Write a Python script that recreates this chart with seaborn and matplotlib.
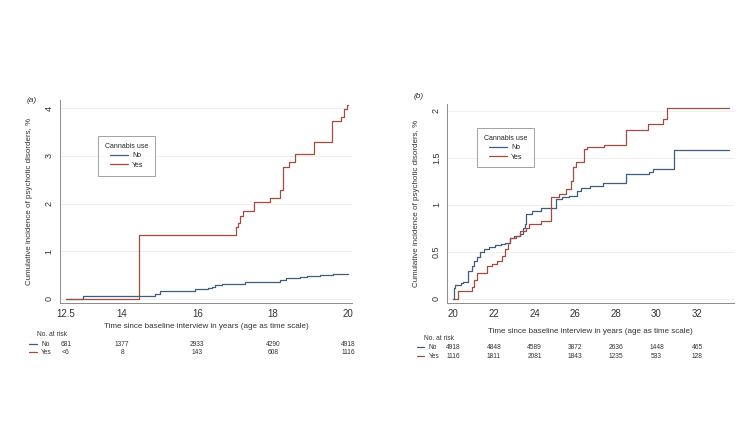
import matplotlib
matplotlib.use("Agg")
import matplotlib.pyplot as plt
import numpy as np
import pandas as pd
import seaborn as sns

# ==================== DATA ====================
# Panel (a): age 12.5-20
a_no_t = [12.5, 12.97, 14.48, 14.87, 15.01, 15.94, 16.27, 16.38, 16.47, 16.65, 17.27, 17.6,
          18.2, 18.36, 18.73, 18.9, 19.26, 19.6, 20.0]
a_no_v = [0.0, 0.057, 0.07, 0.11, 0.16, 0.2, 0.22, 0.24, 0.29, 0.32, 0.35, 0.36,
          0.39, 0.43, 0.45, 0.48, 0.5, 0.52, 0.52]
a_yes_t = [12.5, 14.45, 17.02, 17.07, 17.14, 17.2, 17.49, 17.93, 18.2, 18.27, 18.43, 18.6,
           19.09, 19.57, 19.8, 19.88, 19.96, 20.0]
a_yes_v = [0.0, 1.34, 1.51, 1.6, 1.74, 1.84, 2.04, 2.12, 2.28, 2.76, 2.88, 3.04,
           3.3, 3.73, 3.82, 3.98, 4.07, 4.07]

# Panel (b): age 20-33.5
b_no_t = [20.0, 20.03, 20.11, 20.36, 20.5, 20.72, 20.93, 21.02, 21.18, 21.34, 21.51, 21.75,
          22.07, 22.33, 22.56, 22.79, 22.98, 23.31, 23.44, 23.52, 23.59, 23.9, 24.3,
          25.07, 25.36, 25.69, 26.1, 26.31, 26.75, 27.38, 28.52, 29.62, 29.85, 30.87, 33.56]
b_no_v = [0.0, 0.12, 0.15, 0.17, 0.18, 0.3, 0.35, 0.4, 0.45, 0.5, 0.53, 0.55,
          0.57, 0.59, 0.6, 0.65, 0.67, 0.69, 0.75, 0.8, 0.9, 0.94, 0.97,
          1.06, 1.08, 1.1, 1.15, 1.18, 1.2, 1.23, 1.33, 1.35, 1.38, 1.58, 1.58]
b_yes_t = [20.0, 20.25, 20.93, 21.02, 21.15, 21.67, 21.92, 22.16, 22.38, 22.56, 22.69, 22.79,
           23.08, 23.31, 23.56, 23.72, 24.3, 24.79, 25.2, 25.54, 25.8, 25.9, 26.02,
           26.46, 26.56, 27.41, 28.52, 29.57, 30.31, 30.52, 33.56]
b_yes_v = [0.0, 0.09, 0.13, 0.2, 0.28, 0.35, 0.37, 0.4, 0.46, 0.53, 0.6, 0.65,
           0.67, 0.72, 0.76, 0.8, 0.83, 1.08, 1.12, 1.17, 1.25, 1.4, 1.46,
           1.6, 1.62, 1.64, 1.8, 1.86, 1.91, 2.03, 2.03]

# Numbers at risk
a_ticks = [12.5, 14, 16, 18, 20]
a_risk_no = ["681", "1377", "2933", "4290", "4918"]
a_risk_yes = ["<6", "8", "143", "608", "1116"]
b_ticks = [20, 22, 24, 26, 28, 30, 32]
b_risk_no = ["4918", "4848", "4589", "3872", "2636", "1448", "465"]
b_risk_yes = ["1116", "1811", "2081", "1843", "1235", "533", "128"]

a_yticks = [0, 1, 2, 3, 4]
a_ylabels = ["0", "1", "2", "3", "4"]
b_yticks = [0, 0.5, 1, 1.5, 2]
b_ylabels = ["0", "0.5", "1", "1.5", "2"]

GROUPS = ["No", "Yes"]
COLORS = {"No": "#3f5d7d", "Yes": "#a04c3e"}
AXCOL = "#8c8c8c"
TXT = "#333333"


def make_df(no_t, no_v, yes_t, yes_v):
    return pd.concat([
        pd.DataFrame({"time": no_t, "inc": no_v, "group": "No"}),
        pd.DataFrame({"time": yes_t, "inc": yes_v, "group": "Yes"}),
    ], ignore_index=True)


def draw_panel(ax, df, xlim, ylim, xticks, xticklabels, yticks, yticklabels,
               risk_no, risk_yes, tag, tag_pos, leg_anchor, table_y):
    sns.lineplot(data=df, x="time", y="inc", hue="group", hue_order=GROUPS,
                 palette=COLORS, drawstyle="steps-post", estimator=None,
                 linewidth=0.9, ax=ax)
    ax.set_xlim(*xlim)
    ax.set_ylim(*ylim)
    ax.set_xticks(xticks)
    ax.set_xticklabels(xticklabels, fontsize=7, color=TXT)
    ax.set_yticks(yticks)
    ax.set_yticklabels(yticklabels, fontsize=6.5, color=TXT, rotation=90, va="center")
    ax.tick_params(axis="both", length=2.5, width=0.6, color=AXCOL, pad=2)
    for s in ["top", "right"]:
        ax.spines[s].set_visible(False)
    for s in ["left", "bottom"]:
        ax.spines[s].set_color(AXCOL)
        ax.spines[s].set_linewidth(0.7)
    ax.grid(axis="y", color="#ececec", linewidth=0.6)
    ax.grid(axis="x", visible=False)
    ax.set_axisbelow(True)

    ax.set_xlabel("Time since baseline interview in years (age as time scale)",
                  fontsize=5.8, color=TXT)
    ax.xaxis.set_label_coords(0.5, table_y[0] + 0.055)
    ax.set_ylabel("Cumulative incidence of psychotic disorders, %", fontsize=5.8, color=TXT)
    ax.yaxis.set_label_coords(-0.094, 0.5)

    ax.text(tag_pos[0], tag_pos[1], tag, transform=ax.transAxes, fontsize=6,
            style="italic", color=TXT, ha="center", va="center")

    leg = ax.legend(title="Cannabis use", loc="upper left", bbox_to_anchor=leg_anchor,
                    borderaxespad=0, fontsize=5, title_fontsize=5, frameon=True,
                    fancybox=False, edgecolor="#777777", handlelength=2.6,
                    borderpad=1.0, labelspacing=0.35, handletextpad=0.6)
    leg.get_frame().set_linewidth(0.6)
    for line in leg.get_lines():
        line.set_linewidth(0.9)

    # number-at-risk table
    tr = ax.get_xaxis_transform()
    hdr_y, no_y, yes_y = table_y
    ax.text(-0.08, hdr_y, "No. at risk", transform=ax.transAxes, fontsize=4.8,
            color=TXT, ha="left", va="center")
    for lbl, yy in [("No", no_y), ("Yes", yes_y)]:
        ax.plot([-0.105, -0.08], [yy, yy], transform=ax.transAxes, color=COLORS[lbl],
                linewidth=0.9, clip_on=False)
        ax.text(-0.065, yy, lbl, transform=ax.transAxes, fontsize=4.8, color=TXT,
                ha="left", va="center")
    for x, n_no, n_yes in zip(xticks, risk_no, risk_yes):
        ax.text(x, no_y, n_no, transform=tr, fontsize=4.8, color=TXT, ha="center", va="center")
        ax.text(x, yes_y, n_yes, transform=tr, fontsize=4.8, color=TXT, ha="center", va="center")


def main():
    sns.set_style("white")
    plt.rcParams["font.family"] = ["Liberation Sans", "DejaVu Sans"]

    fig = plt.figure(figsize=(7.54, 4.24), dpi=100)
    ax_a = fig.add_axes([0.0796, 0.285, 0.387, 0.479])
    ax_b = fig.add_axes([0.593, 0.286, 0.380, 0.469])

    df_a = make_df(a_no_t, a_no_v, a_yes_t, a_yes_v)
    df_b = make_df(b_no_t, b_no_v, b_yes_t, b_yes_v)

    draw_panel(ax_a, df_a, (12.35, 20.1), (-0.09, 4.17), a_ticks,
               ["12.5", "14", "16", "18", "20"], a_yticks, a_ylabels,
               a_risk_no, a_risk_yes, "(a)", (-0.096, 0.997), (0.13, 0.823),
               (-0.153, -0.202, -0.241))
    draw_panel(ax_b, df_b, (19.7, 33.8), (-0.04, 2.075), b_ticks,
               [str(t) for t in b_ticks], b_yticks, b_ylabels,
               b_risk_no, b_risk_yes, "(b)", (-0.098, 1.036), (0.105, 0.88),
               (-0.182, -0.223, -0.268))

    fig.savefig("out.png", dpi=100, facecolor="white")
    plt.close(fig)


if __name__ == "__main__":
    main()
